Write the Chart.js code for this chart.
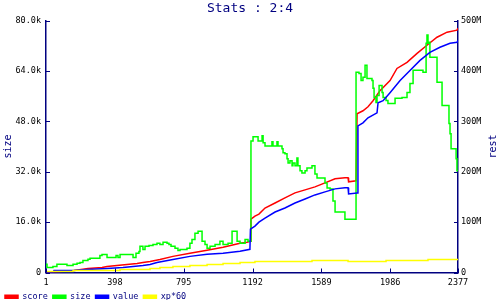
<!DOCTYPE html>
<html>
<head>
<meta charset="utf-8">
<script src="https://cdn.jsdelivr.net/npm/chart.js@4"></script>
<style>
  html, body { margin: 0; padding: 0; background: #fff; }
  canvas { display: block; }
</style>
</head>
<body>
<canvas id="statsChart" width="500" height="300"></canvas>
<script>
// x = sample number, size in thousands (left axis), the rest in millions (right axis)
const xTicks = [1, 398, 795, 1192, 1589, 1986, 2377];
const seriesNames = ['score', 'size', 'value', 'xp*60'];

const scoreData = [
  [1, 0], [163, 4], [243, 8], [324, 10], [353, 12], [410, 14], [468, 16], [526, 18],
  [560, 20], [601, 22], [658, 26], [733, 32], [831, 38], [930, 44], [1022, 50],
  [1120, 58], [1160, 60], [1180, 62], [1183, 106], [1206, 112], [1229, 116],
  [1264, 128], [1322, 138], [1379, 148], [1437, 158], [1495, 164], [1552, 170],
  [1610, 178], [1668, 186], [1725, 188], [1743, 188], [1746, 180], [1789, 182],
  [1795, 315], [1829, 321], [1858, 329], [1887, 341], [1927, 361], [1985, 381],
  [2025, 405], [2083, 417], [2141, 435], [2198, 451], [2256, 467], [2314, 477],
  [2371, 481], [2377, 485]
];

const sizeData = [
  [1, 2.6], [7, 1.6], [41, 1.9], [64, 2.6], [122, 2.2], [157, 2.6], [180, 2.9],
  [197, 3.2], [214, 3.8], [243, 4.2], [255, 4.5], [312, 5.4], [324, 5.7], [353, 4.8],
  [405, 5.4], [416, 4.8], [428, 5.7], [503, 4.8], [520, 6.1], [537, 6.7], [543, 8.3],
  [560, 7.3], [572, 8.3], [595, 8.6], [618, 8.9], [641, 9.3], [658, 8.9], [676, 9.6],
  [699, 9.3], [710, 8.9], [722, 8.3], [745, 7.7], [762, 7.0], [774, 7.3], [814, 7.7],
  [831, 9.3], [843, 10.5], [860, 12.5], [878, 13.1], [901, 9.9], [918, 8.9],
  [930, 7.7], [947, 8.3], [976, 8.9], [1004, 9.9], [1022, 8.9], [1051, 9.3],
  [1074, 13.1], [1103, 9.9], [1120, 9.3], [1149, 10.5], [1166, 9.9], [1183, 41.8],
  [1195, 43.1], [1224, 41.8], [1247, 43.4], [1253, 41.2], [1264, 40.2], [1304, 41.5],
  [1310, 40.2], [1333, 41.5], [1339, 40.2], [1362, 39.3], [1368, 38.0], [1379, 37.7],
  [1391, 36.1], [1397, 34.8], [1408, 35.5], [1420, 33.9], [1425, 34.8], [1437, 33.9],
  [1448, 36.4], [1454, 33.9], [1466, 32.3], [1477, 31.6], [1495, 32.3], [1506, 33.2],
  [1535, 33.9], [1552, 31.3], [1564, 30.0], [1610, 28.4], [1622, 26.8], [1639, 26.5],
  [1656, 22.7], [1668, 19.2], [1725, 16.9], [1789, 63.6], [1806, 63.2], [1818, 61.0],
  [1829, 62.0], [1841, 65.8], [1852, 61.6], [1881, 61.0], [1887, 58.5], [1893, 55.6],
  [1904, 54.0], [1910, 56.2], [1922, 59.4], [1939, 57.2], [1945, 55.6], [1962, 54.6],
  [1973, 53.7], [2014, 55.3], [2054, 55.6], [2083, 57.2], [2100, 60.0], [2118, 64.2],
  [2175, 63.6], [2193, 72.8], [2198, 75.4], [2204, 72.8], [2210, 73.1], [2215, 68.4],
  [2256, 60.4], [2285, 53.0], [2325, 47.3], [2331, 44.1], [2337, 39.3], [2366, 36.1],
  [2371, 32.3], [2377, 32.3]
];

const valueData = [
  [1, 0], [41, 0], [47, 4], [157, 4], [237, 6], [353, 8], [445, 10], [503, 12],
  [560, 14], [601, 16], [641, 20], [733, 26], [831, 32], [930, 36], [1022, 38],
  [1120, 42], [1177, 46], [1180, 86], [1206, 92], [1229, 100], [1264, 108],
  [1322, 120], [1379, 128], [1437, 138], [1495, 146], [1552, 154], [1610, 160],
  [1668, 166], [1725, 168], [1743, 168], [1746, 156], [1795, 158], [1800, 291],
  [1829, 297], [1858, 307], [1910, 317], [1916, 337], [1945, 341], [1985, 357],
  [2043, 381], [2100, 401], [2158, 421], [2215, 437], [2273, 447], [2331, 455],
  [2371, 457], [2377, 461]
];

const xpData = [
  [1, 2], [157, 4], [428, 6], [601, 8], [658, 10], [733, 12], [831, 14], [930, 16],
  [1022, 18], [1120, 20], [1206, 22], [1535, 24], [1743, 22], [1962, 24], [2204, 26],
  [2377, 26]
];

const navy = '#000080';
const mono = '"DejaVu Sans Mono", "Liberation Mono", monospace';
const smallFont = { family: mono, size: 8.5 };

// inward tick marks and the two rotated axis titles
const axisDecor = {
  id: 'axisDecor',
  afterDraw(chart) {
    const { ctx, chartArea: a, scales } = chart;
    ctx.save();
    ctx.strokeStyle = navy;
    ctx.lineWidth = 1;
    ctx.beginPath();
    scales.x.ticks.forEach(t => {
      const px = Math.round(scales.x.getPixelForValue(t.value)) + 0.5;
      ctx.moveTo(px, a.bottom);
      ctx.lineTo(px, a.bottom - 4);
    });
    scales.y.ticks.forEach(t => {
      const py = Math.round(scales.y.getPixelForValue(t.value)) + 0.5;
      ctx.moveTo(a.left, py);
      ctx.lineTo(a.left + 4, py);
    });
    scales.y2.ticks.forEach(t => {
      const py = Math.round(scales.y2.getPixelForValue(t.value)) + 0.5;
      ctx.moveTo(a.right, py);
      ctx.lineTo(a.right - 4, py);
    });
    ctx.stroke();

    ctx.fillStyle = navy;
    ctx.font = '10px ' + mono;
    ctx.textAlign = 'center';
    ctx.textBaseline = 'middle';
    const midY = (a.top + a.bottom) / 2;
    ctx.translate(8, midY);
    ctx.rotate(-Math.PI / 2);
    ctx.fillText('size', 0, 0);
    ctx.setTransform(1, 0, 0, 1, 0, 0);
    ctx.translate(493, midY);
    ctx.rotate(-Math.PI / 2);
    ctx.fillText('rest', 0, 0);
    ctx.restore();
  }
};

const ctx = document.getElementById('statsChart').getContext('2d');
const statsChart = new Chart(ctx, {
  type: 'line',
  data: {
    datasets: [
      { label: seriesNames[0], data: scoreData, borderColor: '#ff0000', backgroundColor: '#ff0000', yAxisID: 'y2', order: 4 },
      { label: seriesNames[1], data: sizeData, borderColor: '#00ff00', backgroundColor: '#00ff00', yAxisID: 'y', stepped: true, order: 3 },
      { label: seriesNames[2], data: valueData, borderColor: '#0000ff', backgroundColor: '#0000ff', yAxisID: 'y2', order: 2 },
      { label: seriesNames[3], data: xpData, borderColor: '#ffff00', backgroundColor: '#ffff00', yAxisID: 'y2', stepped: true, order: 1 }
    ]
  },
  options: {
    responsive: false,
    animation: false,
    elements: {
      point: { radius: 0 },
      line: { borderWidth: 1.5, tension: 0 }
    },
    // the legend box keeps 10px of empty space below its row; let it run off the canvas
    layout: { padding: { top: 0, left: 0, right: 0, bottom: -11 } },
    scales: {
      x: {
        type: 'linear',
        min: 1,
        max: 2377,
        afterBuildTicks: s => { s.ticks = xTicks.map(v => ({ value: v })); },
        afterFit: s => { s.height = 15; },
        grid: { display: false, drawTicks: false },
        border: { display: true, color: navy, width: 1.5 },
        ticks: {
          autoSkip: false,
          maxRotation: 0,
          color: '#000',
          font: smallFont,
          padding: 5,
          callback: v => String(v)
        }
      },
      y: {
        position: 'left',
        min: 0,
        max: 80,
        afterFit: s => { s.width = 46; },
        grid: { display: false, drawTicks: false },
        border: { display: true, color: navy, width: 1.5 },
        ticks: {
          stepSize: 16,
          color: '#000',
          font: smallFont,
          padding: 5,
          callback: v => v === 0 ? '0' : v.toFixed(1) + 'k'
        }
      },
      y2: {
        position: 'right',
        min: 0,
        max: 500,
        afterFit: s => { s.width = 42; },
        grid: { display: false, drawTicks: false },
        border: { display: true, color: navy, width: 1.5 },
        ticks: {
          stepSize: 100,
          color: '#000',
          font: smallFont,
          padding: 3,
          callback: v => v === 0 ? '0' : v + 'M'
        }
      }
    },
    plugins: {
      title: {
        display: true,
        text: 'Stats : 2:4',
        color: navy,
        font: { family: mono, size: 13, weight: 'normal' },
        padding: { top: 1, bottom: 4 }
      },
      legend: {
        position: 'bottom',
        align: 'start',
        labels: {
          boxWidth: 13,
          boxHeight: 3,
          color: navy,
          font: smallFont,
          padding: 5,
          sort: (a, b) => a.datasetIndex - b.datasetIndex
        }
      },
      tooltip: { enabled: false }
    }
  },
  plugins: [axisDecor]
});
</script>
</body>
</html>
